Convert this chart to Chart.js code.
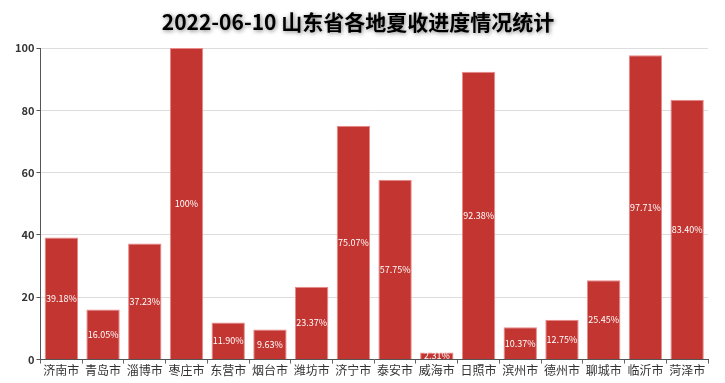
<!DOCTYPE html>
<html>
<head>
<meta charset="utf-8">
<script src="https://cdn.jsdelivr.net/npm/chart.js@4/dist/chart.umd.min.js"></script>
<style>
  html, body { margin: 0; padding: 0; background: #fff; }
  #wrap { width: 725px; height: 383px; }
</style>
</head>
<body>
<div id="wrap"><canvas id="c" width="725" height="383"></canvas></div>
<script>
// 各地市
const cities = ['济南市', '青岛市', '淄博市', '枣庄市', '东营市', '烟台市', '潍坊市', '济宁市',
  '泰安市', '威海市', '日照市', '滨州市', '德州市', '聊城市', '临沂市', '菏泽市'];
// 夏收进度 (%)
const progress = [39.18, 16.05, 37.23, 100, 11.90, 9.63, 23.37, 75.07,
  57.75, 2.31, 92.38, 10.37, 12.75, 25.45, 97.71, 83.40];
const yTicks = [0, 20, 40, 60, 80, 100];

const titleText = '2022-06-10 山东省各地夏收进度情况统计';
const font = '"Noto Sans CJK SC", "Noto Sans", sans-serif';

// 标题带阴影
const titlePlugin = {
  id: 'shadowTitle',
  afterDraw(chart) {
    const c = chart.ctx;
    c.save();
    c.font = 'bold 21px ' + font;
    c.fillStyle = '#000';
    c.textAlign = 'center';
    c.textBaseline = 'middle';
    c.shadowColor = 'rgba(0,0,0,0.5)';
    c.shadowBlur = 4;
    c.shadowOffsetX = 1;
    c.shadowOffsetY = 1;
    c.fillText(titleText, 358, 22);
    c.restore();
  }
};

// 柱内百分比标签
const labelPlugin = {
  id: 'barLabels',
  afterDatasetsDraw(chart) {
    const c = chart.ctx;
    const meta = chart.getDatasetMeta(0);
    c.save();
    c.font = '9px ' + font;
    c.fillStyle = '#fff';
    c.textAlign = 'center';
    c.textBaseline = 'middle';
    meta.data.forEach((bar, i) => {
      const v = progress[i];
      const y = (bar.y + bar.base) / 2;
      c.fillText(v.toFixed(v === 100 ? 0 : 2) + '%', bar.x, y);
    });
    c.restore();
  }
};

new Chart(document.getElementById('c'), {
  type: 'bar',
  data: {
    labels: cities,
    datasets: [{
      data: progress,
      backgroundColor: '#c23531',
      borderColor: '#e88a88',
      borderWidth: 1,
      categoryPercentage: 1,
      barPercentage: 0.8
    }]
  },
  options: {
    responsive: false,
    animation: false,
    layout: { padding: { top: 48, right: 17, left: 13, bottom: 5 } },
    plugins: {
      legend: { display: false },
      tooltip: { enabled: false }
    },
    scales: {
      x: {
        grid: {
          display: true,
          drawOnChartArea: false,
          offset: true,
          tickLength: 4,
          color: '#666'
        },
        border: { color: '#555' },
        ticks: { color: '#333', font: { family: font, size: 12 }, padding: 0, maxRotation: 0, autoSkip: false }
      },
      y: {
        min: 0,
        max: 100,
        afterBuildTicks(axis) { axis.ticks = yTicks.map(v => ({ value: v })); },
        grid: { color: '#ddd', tickColor: '#555', tickLength: 4 },
        border: { color: '#555' },
        ticks: { color: '#333', font: { family: font, size: 11, weight: 'bold' }, padding: 2 }
      }
    }
  },
  plugins: [titlePlugin, labelPlugin]
});
</script>
</body>
</html>
